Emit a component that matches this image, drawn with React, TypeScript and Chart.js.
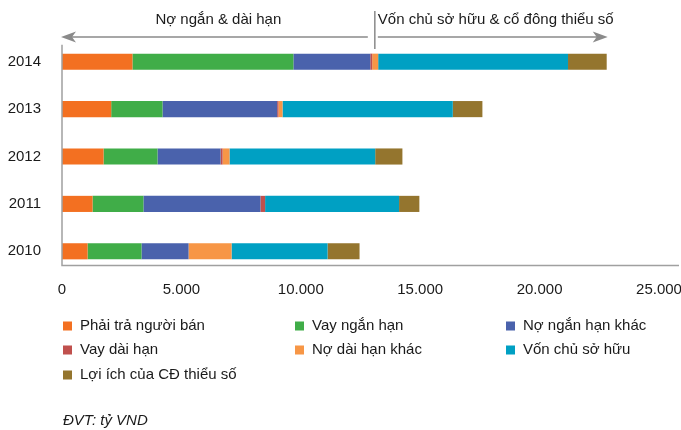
import React, { useEffect, useRef } from "react";
import { Chart, registerables } from "chart.js";

Chart.register(...registerables);

// ---- data (tỷ VND) ----
const categories = ["2014", "2013", "2012", "2011", "2010"];
const phaiTraNguoiBan = [2950, 2060, 1740, 1280, 1070];
const vayNganHan = [6740, 2150, 2260, 2130, 2260];
const noNganHanKhac = [3220, 4800, 2640, 4900, 1970];
const vayDaiHan = [80, 55, 85, 195, 0];
const noDaiHanKhac = [250, 170, 290, 0, 1800];
const vonChuSoHuu = [7950, 7130, 6100, 5610, 4020];
const loiIchCDThieuSo = [1620, 1240, 1140, 850, 1340];

const xTicks = [0, 5000, 10000, 15000, 20000, 25000];
const seriesLabels = [
  "Phải trả người bán",
  "Vay ngắn hạn",
  "Nợ ngắn hạn khác",
  "Vay dài hạn",
  "Nợ dài hạn khác",
  "Vốn chủ sở hữu",
  "Lợi ích của CĐ thiểu số",
];
const seriesColors = ["#F37021", "#40AD48", "#4A62AC", "#C0504D", "#F79646", "#00A0C3", "#94752E"];
const annotationLeft = "Nợ ngắn & dài hạn";
const annotationRight = "Vốn chủ sở hữu & cổ đông thiểu số";
const dividerValue = 13100; // boundary between debt and equity (2014)
const unitNote = "ĐVT: tỷ VND";

const FONT = "'Liberation Sans', Arial, sans-serif";

function fmt(v: number) {
  return String(v).replace(/\B(?=(\d{3})+(?!\d))/g, ".");
}

function arrowHead(ctx: CanvasRenderingContext2D, tipX: number, y: number, dir: number) {
  ctx.beginPath();
  ctx.moveTo(tipX, y);
  ctx.lineTo(tipX - dir * 15, y - 5.5);
  ctx.lineTo(tipX - dir * 11, y);
  ctx.lineTo(tipX - dir * 15, y + 5.5);
  ctx.closePath();
  ctx.fill();
}

const overlayPlugin = {
  id: "overlay",
  afterDraw(chart: any) {
    const { ctx, scales } = chart;
    const xs = scales.x;
    const ys = scales.y;
    const x0 = xs.getPixelForValue(0);
    const band = Math.abs(ys.getPixelForValue(1) - ys.getPixelForValue(0));
    ctx.save();
    // axes
    ctx.strokeStyle = "#a0a0a0";
    ctx.lineWidth = 1.5;
    const axisTop = ys.getPixelForValue(0) - band * 0.36;
    const axisBottom = ys.getPixelForValue(categories.length - 1) + band * 0.3;
    ctx.beginPath();
    ctx.moveTo(x0, axisTop);
    ctx.lineTo(x0, axisBottom);
    ctx.lineTo(chart.width - 2, axisBottom);
    ctx.stroke();

    // top annotation
    const total0 =
      phaiTraNguoiBan[0] + vayNganHan[0] + noNganHanKhac[0] + vayDaiHan[0] +
      noDaiHanKhac[0] + vonChuSoHuu[0] + loiIchCDThieuSo[0];
    const xd = xs.getPixelForValue(dividerValue);
    const xEnd = xs.getPixelForValue(total0) + 1;
    const ay = 37;
    ctx.strokeStyle = "#8a8a8a";
    ctx.fillStyle = "#8a8a8a";
    ctx.lineWidth = 1.5;
    ctx.beginPath();
    ctx.moveTo(xd - 7, ay);
    ctx.lineTo(x0 + 8, ay);
    ctx.moveTo(xd + 3, ay);
    ctx.lineTo(xEnd - 8, ay);
    ctx.moveTo(xd, 11);
    ctx.lineTo(xd, 49);
    ctx.stroke();
    arrowHead(ctx, x0 - 1, ay, -1);
    arrowHead(ctx, xEnd, ay, 1);

    ctx.fillStyle = "#1a1a1a";
    ctx.font = `15px ${FONT}`;
    ctx.textBaseline = "middle";
    ctx.textAlign = "center";
    ctx.fillText(annotationLeft, (x0 + xd) / 2, 20);
    ctx.textAlign = "left";
    ctx.fillText(annotationRight, xd + 3, 20);

    // legend
    const colX = [63, 295, 506];
    const rowY = [326, 350, 375];
    ctx.font = `15px ${FONT}`;
    seriesLabels.forEach((lab, i) => {
      const cx = colX[i % 3];
      const cy = rowY[Math.floor(i / 3)];
      ctx.fillStyle = seriesColors[i];
      ctx.fillRect(cx, cy - 4.5, 9, 9);
      ctx.fillStyle = "#1a1a1a";
      ctx.textAlign = "left";
      ctx.fillText(lab, cx + 17, cy);
    });

    // unit note
    ctx.font = `italic 15px ${FONT}`;
    ctx.fillStyle = "#1a1a1a";
    ctx.fillText(unitNote, 63, 421);
    ctx.restore();
  },
};

export default function App() {
  const ref = useRef<HTMLCanvasElement | null>(null);
  useEffect(() => {
    if (!ref.current) return;
    const seriesData = [
      phaiTraNguoiBan,
      vayNganHan,
      noNganHanKhac,
      vayDaiHan,
      noDaiHanKhac,
      vonChuSoHuu,
      loiIchCDThieuSo,
    ];
    const chart = new Chart(ref.current, {
      type: "bar",
      data: {
        labels: categories,
        datasets: seriesData.map((d, i) => ({
          label: seriesLabels[i],
          data: d,
          backgroundColor: seriesColors[i],
          borderWidth: 0,
          categoryPercentage: 1,
          barPercentage: 0.34,
        })),
      },
      options: {
        indexAxis: "y",
        animation: false,
        responsive: false,
        devicePixelRatio: 1,
        layout: { padding: { top: 38, left: 0, right: 22, bottom: 0 } },
        plugins: { legend: { display: false }, tooltip: { enabled: false }, title: { display: false } },
        scales: {
          x: {
            stacked: true,
            min: 0,
            max: 25000,
            afterFit: (s: any) => {
              s.height = 155;
              s.paddingLeft = 0;
              s.paddingRight = 0;
            },
            afterBuildTicks: (s: any) => {
              s.ticks = xTicks.map((v) => ({ value: v }));
            },
            grid: { display: false, drawTicks: false },
            border: { display: false },
            ticks: {
              padding: 6,
              color: "#1a1a1a",
              font: { family: FONT, size: 15 },
              callback: (v: any) => fmt(Number(v)),
              maxRotation: 0,
            },
          },
          y: {
            stacked: true,
            afterFit: (s: any) => {
              s.width = 62;
              s.paddingTop = 0;
              s.paddingBottom = 0;
            },
            grid: { display: false, drawTicks: false },
            border: { display: false },
            ticks: {
              padding: 21,
              color: "#1a1a1a",
              font: { family: FONT, size: 15 },
            },
          },
        },
      },
      plugins: [overlayPlugin],
    });
    return () => chart.destroy();
  }, []);
  return (
    <div style={{ position: "absolute", left: 0, top: 0, width: 681, height: 430, background: "#fff" }}>
      <canvas ref={ref} width={681} height={430} style={{ display: "block" }} />
    </div>
  );
}
